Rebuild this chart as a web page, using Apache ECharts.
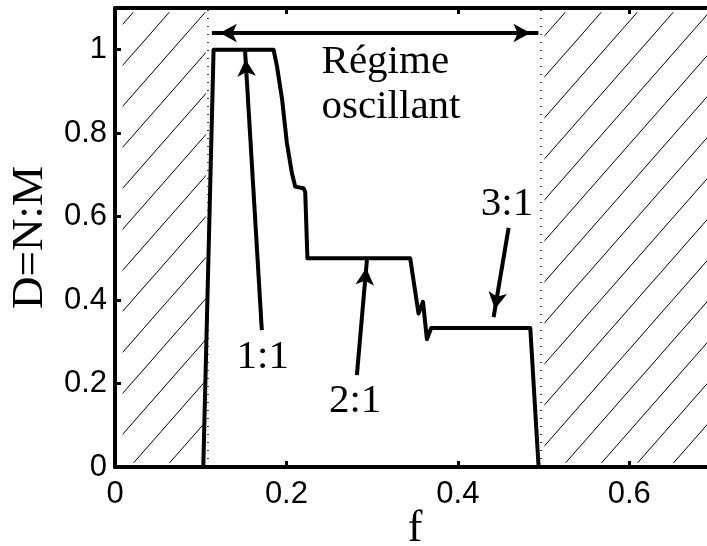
<!DOCTYPE html>
<html>
<head>
<meta charset="utf-8">
<script src="https://cdn.jsdelivr.net/npm/echarts@6/dist/echarts.min.js"></script>
<style>
  html, body { margin: 0; padding: 0; background: #fff; }
  #chart { width: 707px; height: 546px; }
</style>
</head>
<body>
<div id="chart"></div>
<script>
// curve D = N:M versus f
const fX = [0.103, 0.115, 0.185, 0.189, 0.195, 0.2005, 0.2063, 0.2102, 0.2198, 0.2219, 0.2245, 0.3444, 0.3541, 0.3593, 0.3639, 0.3689, 0.4845, 0.4942];
const fD = [0, 1, 1, 0.96, 0.88, 0.777, 0.705, 0.672, 0.668, 0.66, 0.5, 0.5, 0.368, 0.396, 0.306, 0.333, 0.333, 0];

// oscillating regime bounds (hatched outside)
const regime = [0.108, 0.497];
const xRange = [0, 0.7];
const yRange = [0, 1.1];
const xTicks = ['0', '0.2', '0.4', '0.6'];
const yTicks = ['0', '0.2', '0.4', '0.6', '0.8', '1'];

// annotations
const labelText = ['1:1', '2:1', '3:1'];
const labelPos = [[0.1723, 0.263], [0.2802, 0.158], [0.4573, 0.630]];
const arrowFrom = [[0.1713, 0.328], [0.2822, 0.220], [0.4592, 0.573]];
const arrowTo = [[0.1518, 0.996], [0.2939, 0.496], [0.4417, 0.359]];
const spanY = 1.04;
const regimeText = 'Régime\noscillant';
const regimePos = [0.241, 0.916];

// hatch pattern
const tile = document.createElement('canvas');
tile.width = 36; tile.height = 41;
let g = tile.getContext('2d');
g.strokeStyle = '#000';
g.lineWidth = 1;
g.beginPath();
g.moveTo(-2, 41 + 2 * 41 / 36);
g.lineTo(38, -2 * 41 / 36);
g.stroke();

const serif = 'Liberation Serif';
const sans = 'Liberation Sans';

function tickText(list, v) {
    let k = v / 0.2;
    if (Math.abs(k - Math.round(k)) > 1e-6) return '';
    return list[Math.round(k)] || '';
}

let myChart = echarts.init(document.getElementById('chart'));

let axisBase = {
    type: 'value',
    min: xRange[0],
    max: xRange[1],
    interval: 0.2,
    axisLine: { lineStyle: { color: '#000', width: 4 } },
    axisTick: { inside: true, length: 6, lineStyle: { color: '#000', width: 3 } },
    splitLine: { show: false }
};

let arrows = arrowFrom.map((p, i) => [
    { coord: p, symbol: 'none' },
    { coord: arrowTo[i], symbol: 'arrow' }
]);
arrows.push([
    { coord: [regime[0] + 0.005, spanY], symbol: 'arrow' },
    { coord: [regime[1] - 0.003, spanY], symbol: 'arrow' }
]);
let dotted = regime.map(x => [
    { coord: [x, yRange[0]], symbol: 'none', lineStyle: { type: [1, 7], width: 1.5, color: '#000' } },
    { coord: [x, yRange[1]], symbol: 'none' }
]);

myChart.setOption({
    animation: false,
    grid: { left: 115, top: 8, width: 600, height: 459, outerBoundsMode: 'none', containLabel: false },
    xAxis: [
        Object.assign({}, axisBase, {
            position: 'bottom',
            name: 'f',
            nameLocation: 'middle',
            nameGap: 40,
            nameMoveOverlap: false,
            nameTextStyle: { fontFamily: serif, fontSize: 44, color: '#000' },
            axisLabel: {
                fontFamily: sans, fontSize: 31, color: '#000', margin: 12,
                formatter: v => tickText(xTicks, v)
            }
        }),
        Object.assign({}, axisBase, { position: 'top', axisLabel: { show: false } })
    ],
    yAxis: [{
        type: 'value',
        min: yRange[0],
        max: yRange[1],
        interval: 0.2,
        position: 'left',
        name: 'D=N:M',
        nameLocation: 'middle',
        nameGap: 62,
        nameMoveOverlap: false,
        nameTextStyle: { fontFamily: serif, fontSize: 45, color: '#000' },
        axisLine: { lineStyle: { color: '#000', width: 4 } },
        axisTick: { inside: true, length: 6, lineStyle: { color: '#000', width: 3 } },
        splitLine: { show: false },
        axisLabel: {
            fontFamily: sans, fontSize: 31, color: '#000', margin: 8,
            formatter: v => tickText(yTicks, v)
        }
    }],
    series: [
        {
            type: 'line',
            data: fX.map((x, i) => [x, fD[i]]),
            symbol: 'none',
            lineStyle: { color: '#000', width: 4, join: 'round' },
            z: 3,
            markArea: {
                silent: true,
                itemStyle: { color: { image: tile, repeat: 'repeat' } },
                data: [
                    [{ coord: [xRange[0] + 0.009, yRange[0] + 0.01] }, { coord: [regime[0] - 0.002, yRange[1] - 0.01] }],
                    [{ coord: [regime[1] + 0.004, yRange[0] + 0.01] }, { coord: [xRange[1], yRange[1] - 0.01] }]
                ]
            },
            markLine: {
                silent: true,
                symbolSize: [14, 17],
                symbolOffset: [[0, 8], [0, 8]],
                lineStyle: { color: '#000', width: 4, type: 'solid' },
                label: { show: false },
                data: arrows.concat(dotted)
            }
        },
        {
            type: 'scatter',
            symbolSize: 1,
            itemStyle: { color: 'rgba(0,0,0,0)', opacity: 1 },
            z: 4,
            label: {
                show: true, position: 'inside',
                fontFamily: serif, fontSize: 41, color: '#000',
                formatter: p => p.value[2]
            },
            data: labelPos.map((p, i) => [p[0], p[1], labelText[i]]).concat([
                {
                    value: [regimePos[0], regimePos[1], regimeText],
                    label: { align: 'left', lineHeight: 45 }
                }
            ])
        }
    ]
});
</script>
</body>
</html>
